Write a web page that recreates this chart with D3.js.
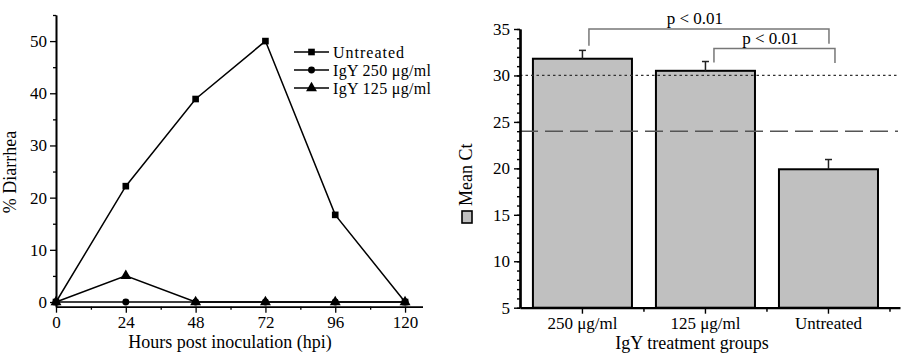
<!DOCTYPE html>
<html>
<head>
<meta charset="utf-8">
<script src="https://cdn.jsdelivr.net/npm/d3@7"></script>
<style>
	body { margin: 0; background: #fff; }
	svg text { font-family: "Liberation Serif", "DejaVu Serif", serif; font-size: 18px; fill: #000; }
</style>
</head>
<body>
<svg id="chart" width="910" height="359"></svg>
<script>

/////////////////////////////////////////////////////////////////////////
// data

var hours = [0, 24, 48, 72, 96, 120]
var untreated = [0, 22.2, 38.9, 50, 16.7, 0]
var igy250 = [0, 0, 0, 0, 0, 0]
var igy125 = [0, 5, 0, 0, 0, 0]
var seriesNames = ['Untreated', 'IgY 250 μg/ml', 'IgY 125 μg/ml']

var groups = ['250 μg/ml', '125 μg/ml', 'Untreated']
var meanCt = [31.8, 30.5, 19.9]
var ctError = [0.9, 1.0, 1.05]
var cutoffs = [30, 24]
var brackets = [
	{from: '250 μg/ml', to: 'Untreated', level: 35, left: 33.2, right: 33.4, label: 'p < 0.01'},
	{from: '125 μg/ml', to: 'Untreated', level: 32.9, left: 31.4, right: 31.35, label: 'p < 0.01'}
]

var svg = d3.select('#chart')

/////////////////////////////////////////////////////////////////////////
// left panel: % diarrhea

var xL = d3.scaleLinear().domain([0, 126]).range([56, 422.5])
var yL = d3.scaleLinear().domain([-0.9, 55]).range([306.7, 15])

var left = svg.append('g')

var axL = left.append('g')
	.attr('transform', 'translate(' + xL(0) + ',0)')
	.call(d3.axisLeft(yL).tickValues(d3.range(0, 51, 10)).tickSize(6).tickSizeOuter(0).tickPadding(3))
axL.append('g').call(d3.axisLeft(yL).tickValues(d3.range(5, 56, 10)).tickSize(3).tickSizeOuter(0).tickFormat(''))

var axB = left.append('g')
	.attr('transform', 'translate(0,' + yL(-0.9) + ')')
	.call(d3.axisBottom(xL).tickValues(hours).tickSize(6).tickSizeOuter(0).tickPadding(3))
axB.append('g').call(d3.axisBottom(xL).tickValues(d3.range(12, 121, 24)).tickSize(3).tickSizeOuter(0).tickFormat(''))

left.selectAll('.domain').attr('stroke-width', 1.6)
left.selectAll('.tick line').attr('stroke-width', 1.3)
left.selectAll('.tick text').style('font-size', '17px').style('font-family', '"Liberation Serif", serif')

left.append('text')
	.attr('transform', 'translate(16,172) rotate(-90)')
	.attr('text-anchor', 'middle')
	.text('% Diarrhea')

left.append('text')
	.attr('x', 230).attr('y', 348)
	.attr('text-anchor', 'middle')
	.text('Hours post inoculation (hpi)')

var line = d3.line().x(function(d, i) { return xL(hours[i]) }).y(function(d) { return yL(d) })
var symbols = [d3.symbolSquare, d3.symbolCircle, d3.symbolTriangle]
var symSizes = [44, 38, 52]
var allSeries = [untreated, igy250, igy125]

allSeries.forEach(function(s, k) {
	left.append('path')
		.attr('d', line(s))
		.attr('fill', 'none')
		.attr('stroke', '#000')
		.attr('stroke-width', 1.5)
})
allSeries.forEach(function(s, k) {
	left.selectAll('.m' + k).data(s).enter().append('path')
		.attr('transform', function(d, i) { return 'translate(' + xL(hours[i]) + ',' + yL(d) + ')' })
		.attr('d', d3.symbol().type(symbols[k]).size(symSizes[k]))
		.attr('fill', '#000')
})

// legend
var legend = left.append('g').attr('transform', 'translate(294,52)')
seriesNames.forEach(function(name, k) {
	var row = legend.append('g').attr('transform', 'translate(0,' + (k * 18) + ')')
	row.append('line').attr('x1', 0).attr('x2', 35).attr('stroke', '#000').attr('stroke-width', 1.5)
	row.append('path')
		.attr('transform', 'translate(17.5,0)')
		.attr('d', d3.symbol().type(symbols[k]).size(symSizes[k]))
	row.append('text').attr('x', 39).attr('dy', '0.35em')
		.style('font-size', '16px')
		.attr('textLength', [71, 98, 98][k])
		.text(name)
})

/////////////////////////////////////////////////////////////////////////
// right panel: mean Ct

var xR = d3.scaleBand().domain(groups).range([520, 900]).paddingInner(0.195).paddingOuter(0.142).align(0.37)
var yR = d3.scaleLinear().domain([5, 35]).range([307.7, 29])

var right = svg.append('g')

right.selectAll('.bar').data(groups).enter().append('rect')
	.attr('x', function(d) { return xR(d) })
	.attr('y', function(d, i) { return yR(meanCt[i]) })
	.attr('width', xR.bandwidth())
	.attr('height', function(d, i) { return yR(5) - yR(meanCt[i]) })
	.attr('fill', '#c0c0c0')
	.attr('stroke', '#000')
	.attr('stroke-width', 2)

// error bars
groups.forEach(function(g, i) {
	var cx = xR(g) + xR.bandwidth() / 2
	right.append('line')
		.attr('x1', cx).attr('x2', cx)
		.attr('y1', yR(meanCt[i])).attr('y2', yR(meanCt[i] + ctError[i]))
		.attr('stroke', '#222').attr('stroke-width', 1.5)
	right.append('line')
		.attr('x1', cx - 3.5).attr('x2', cx + 3.5)
		.attr('y1', yR(meanCt[i] + ctError[i])).attr('y2', yR(meanCt[i] + ctError[i]))
		.attr('stroke', '#222').attr('stroke-width', 1.5)
})

// cutoff lines
right.selectAll('.cut').data(cutoffs).enter().append('line')
	.attr('x1', xR.range()[0]).attr('x2', xR.range()[1] - 2)
	.attr('y1', function(d) { return yR(d) }).attr('y2', function(d) { return yR(d) })
	.attr('stroke', function(d, i) { return i ? '#555' : '#333' })
	.attr('stroke-width', function(d, i) { return i ? 1.5 : 1.2 })
	.attr('stroke-dasharray', function(d, i) { return i ? '18,7' : '2.5,3' })

var axR = right.append('g')
	.attr('transform', 'translate(520,0)')
	.call(d3.axisLeft(yR).tickValues(d3.range(5, 36, 5)).tickSize(6).tickSizeOuter(0).tickPadding(4))
axR.append('g').call(d3.axisLeft(yR).tickValues(d3.range(5, 36, 1)).tickSize(3).tickSizeOuter(0).tickFormat(''))

var axRB = right.append('g')
	.attr('transform', 'translate(0,' + yR(5) + ')')
	.call(d3.axisBottom(xR).tickSize(6).tickSizeOuter(0).tickPadding(3))
axRB.selectAll('.minor').data(groups).enter().append('line')
	.attr('x1', function(d) { return xR(d) + xR.bandwidth() + xR.step() * xR.paddingInner() / 2 })
	.attr('x2', function(d) { return xR(d) + xR.bandwidth() + xR.step() * xR.paddingInner() / 2 })
	.attr('y2', 4)
	.attr('stroke', '#000').attr('stroke-width', 1.5)

right.selectAll('.domain').attr('stroke-width', 2.2)
right.selectAll('.tick line').attr('stroke-width', 1.4)
right.selectAll('.tick text').style('font-size', '17px').style('font-family', '"Liberation Serif", serif')

right.append('text')
	.attr('x', 692).attr('y', 349)
	.attr('text-anchor', 'middle')
	.text('IgY treatment groups')

right.append('text')
	.attr('transform', 'translate(472,206) rotate(-90)')
	.attr('text-anchor', 'start')
	.text('Mean Ct')
right.append('rect')
	.attr('x', 462).attr('y', 211).attr('width', 10).attr('height', 12)
	.attr('fill', '#c0c0c0').attr('stroke', '#000').attr('stroke-width', 1.6)

// significance brackets
brackets.forEach(function(b) {
	var x1 = xR(b.from) + xR.bandwidth() / 2 + (b.from === groups[0] ? 6.5 : 8.5)
	var x2 = xR(b.to) + xR.bandwidth() / 2 + (b.level === 35 ? 0.5 : 6.5)
	right.append('path')
		.attr('d', 'M' + x1 + ',' + yR(b.left) + 'V' + yR(b.level) + 'H' + x2 + 'V' + yR(b.right))
		.attr('fill', 'none')
		.attr('stroke', '#777')
		.attr('stroke-width', 1.5)
	right.append('text')
		.attr('x', (x1 + x2) / 2 - (b.level === 35 ? 14 : 4))
		.attr('y', yR(b.level) - 5)
		.attr('text-anchor', 'middle')
		.style('font-size', '17px')
		.text(b.label)
})

</script>
</body>
</html>
